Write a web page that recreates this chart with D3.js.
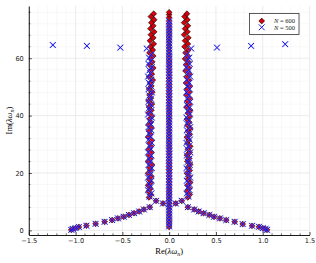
<!DOCTYPE html>
<html>
<head>
<meta charset="utf-8">
<script src="https://cdn.jsdelivr.net/npm/d3@7"></script>
<style>
  html, body { margin: 0; padding: 0; background: #fff; }
  svg { display: block; }
</style>
</head>
<body>
<div id="chart"></div>
<script>
// ---- data ----
const xTicks = [-1.5, -1.0, -0.5, 0.0, 0.5, 1.0, 1.5];
const yTicks = [0, 20, 40, 60];
const seriesNames = ['N = 600', 'N = 500'];

// N = 600 : centre column (Re = 0)
const centreIm600 = [1.2, 2.2, 3.2, 4.2, 5.3, 6.3, 7.4, 8.4, 9.5, 10.6, 11.6, 12.7, 13.7, 14.8, 15.9,
  16.9, 18.0, 19.0, 20.1, 21.2, 22.2, 23.3, 24.3, 25.4, 26.5, 27.5, 28.6, 29.6, 30.7, 31.8, 32.8,
  33.9, 34.9, 36.0, 37.1, 38.1, 39.2, 40.2, 41.3, 42.4, 43.4, 44.5, 45.5, 46.6, 47.7, 48.7, 49.8,
  50.8, 51.9, 53.0, 54.0, 55.1, 56.1, 57.2, 58.3, 59.3, 60.4, 61.4, 62.5, 63.6, 64.6, 65.7, 66.7,
  67.8, 68.9, 69.9, 71.0, 72.0, 73.1, 74.2, 75.2, 76.0];
// N = 600 : side branches (shared Im, left / right Re)
const sideIm600 = [11.5, 12.5, 13.6, 14.6, 15.7, 16.7, 17.8, 18.8, 19.9, 20.9, 22.0, 23.0, 24.1, 25.1,
  26.2, 27.2, 28.3, 29.3, 30.4, 31.4, 32.5, 33.5, 34.6, 35.6, 36.7, 37.7, 38.8, 39.8, 40.9, 41.9,
  43.0, 44.0, 45.1, 46.1, 47.2, 48.2, 49.3, 50.3, 51.4, 52.4, 53.5, 54.5, 55.6, 56.6, 57.7, 58.7,
  59.8, 60.8, 61.9, 62.9, 64.0, 65.0, 66.1, 67.1, 68.2, 69.2, 70.3, 71.3, 72.4, 73.4, 74.5, 75.5];
const leftRe600 = [-0.215, -0.195, -0.22, -0.2, -0.225, -0.195, -0.215, -0.19, -0.225, -0.2, -0.21,
  -0.185, -0.225, -0.2, -0.215, -0.19, -0.22, -0.195, -0.21, -0.185, -0.225, -0.2, -0.215, -0.19,
  -0.22, -0.195, -0.21, -0.185, -0.22, -0.19, -0.215, -0.185, -0.22, -0.195, -0.21, -0.18, -0.215,
  -0.19, -0.205, -0.175, -0.215, -0.185, -0.2, -0.17, -0.21, -0.18, -0.2, -0.17, -0.21, -0.175,
  -0.2, -0.165, -0.205, -0.17, -0.195, -0.16, -0.2, -0.17, -0.19, -0.16, -0.195, -0.165];
const rightRe600 = [0.2, 0.22, 0.19, 0.215, 0.195, 0.225, 0.2, 0.215, 0.19, 0.22, 0.2, 0.225, 0.195,
  0.215, 0.19, 0.22, 0.2, 0.225, 0.195, 0.21, 0.19, 0.22, 0.2, 0.225, 0.195, 0.215, 0.19, 0.22, 0.2,
  0.225, 0.185, 0.215, 0.195, 0.22, 0.185, 0.215, 0.19, 0.22, 0.18, 0.21, 0.185, 0.215, 0.175, 0.21,
  0.18, 0.205, 0.17, 0.2, 0.175, 0.205, 0.165, 0.2, 0.17, 0.205, 0.16, 0.195, 0.17, 0.2, 0.16, 0.195,
  0.165, 0.19];
// N = 600 : lower arcs [Re, Im]
const lowLeft600 = [[-1.046, 0.2], [-1.03, 0.5], [-1.0, 0.8], [-0.965, 1.2], [-0.885, 1.65],
  [-0.786, 2.3], [-0.69, 3.0], [-0.61, 3.6], [-0.547, 4.2], [-0.486, 4.75], [-0.43, 5.4],
  [-0.375, 6.0], [-0.32, 6.6], [-0.27, 7.3], [-0.207, 8.1], [-0.14, 10.3], [-0.065, 9.4]];
const lowRight600 = [[1.046, 0.2], [1.03, 0.5], [1.0, 0.8], [0.96, 1.25], [0.886, 1.6],
  [0.786, 2.2], [0.70, 3.0], [0.61, 3.6], [0.543, 4.2], [0.48, 4.75], [0.43, 5.4],
  [0.368, 6.0], [0.315, 6.6], [0.268, 7.3], [0.2, 8.1], [0.135, 10.3], [0.07, 9.4]];

// N = 500
const centreIm500 = [1.4, 2.5, 3.6, 4.7, 5.8, 6.9, 8.0, 9.1, 10.2, 11.3, 12.4, 13.5, 14.6, 15.7, 16.8,
  17.9, 19.0, 20.1, 21.2, 22.3, 23.4, 24.5, 25.6, 26.7, 27.8, 28.9, 30.0, 31.1, 32.2, 33.3, 34.4,
  35.5, 36.6, 37.7, 38.8, 39.9, 41.0, 42.1, 43.2, 44.3, 45.4, 46.5, 47.6, 48.7, 49.8, 50.9, 52.0,
  53.1, 54.2, 55.3, 56.4, 57.5, 58.6, 59.7, 60.8, 61.9, 63.0, 64.1, 65.2, 66.3, 67.4, 68.5, 69.6,
  70.7, 71.8, 72.9];
const sideIm500 = [11.8, 12.9, 14.0, 15.1, 16.2, 17.3, 18.4, 19.5, 20.6, 21.7, 22.8, 23.9, 25.0, 26.1,
  27.2, 28.3, 29.4, 30.5, 31.6, 32.7, 33.8, 34.9, 36.0, 37.1, 38.2, 39.3, 40.4, 41.5, 42.6, 43.7,
  44.8, 45.9, 47.0, 48.1, 49.2, 50.3, 51.4, 52.5, 53.6, 54.7, 55.8, 56.9, 58.0, 59.1, 60.2, 61.3, 63.4];
const leftRe500 = [-0.21, -0.19, -0.225, -0.2, -0.215, -0.19, -0.225, -0.2, -0.21, -0.185, -0.22,
  -0.2, -0.215, -0.19, -0.225, -0.195, -0.21, -0.185, -0.22, -0.2, -0.215, -0.19, -0.22, -0.195,
  -0.21, -0.185, -0.225, -0.2, -0.215, -0.19, -0.22, -0.195, -0.21, -0.185, -0.22, -0.195, -0.215,
  -0.19, -0.225, -0.2, -0.21, -0.185, -0.22, -0.195, -0.215, -0.19, -0.24];
const rightRe500 = [0.205, 0.19, 0.22, 0.2, 0.215, 0.19, 0.225, 0.2, 0.21, 0.185, 0.22, 0.2, 0.215,
  0.19, 0.225, 0.195, 0.21, 0.185, 0.22, 0.2, 0.215, 0.19, 0.225, 0.195, 0.21, 0.185, 0.22, 0.2,
  0.215, 0.19, 0.225, 0.195, 0.21, 0.185, 0.22, 0.2, 0.215, 0.19, 0.225, 0.2, 0.21, 0.185, 0.22,
  0.195, 0.215, 0.19, 0.235];
const lowLeft500 = [[-1.046, 0.2], [-1.03, 0.5], [-1.0, 0.8], [-0.965, 1.2], [-0.885, 1.65],
  [-0.786, 2.3], [-0.69, 3.0], [-0.61, 3.6], [-0.547, 4.2], [-0.486, 4.75], [-0.43, 5.4],
  [-0.375, 6.0], [-0.32, 6.6], [-0.27, 7.3], [-0.207, 8.1], [-0.14, 10.3], [-0.065, 9.4]];
const lowRight500 = [[1.046, 0.2], [1.03, 0.5], [1.0, 0.8], [0.96, 1.25], [0.886, 1.6],
  [0.786, 2.2], [0.70, 3.0], [0.61, 3.6], [0.543, 4.2], [0.48, 4.75], [0.43, 5.4],
  [0.368, 6.0], [0.315, 6.6], [0.268, 7.3], [0.2, 8.1], [0.135, 10.3], [0.07, 9.4]];
// N = 500 : outlying eigenvalues near Im 64
const outliers500 = [[-1.243, 64.6], [-0.879, 64.3], [-0.522, 63.7], [0.511, 63.7], [0.876, 64.3],
  [1.24, 64.9]];

// ---- assemble point lists ----
function collect(centreIm, sideIm, leftRe, rightRe, lowLeft, lowRight, extra) {
  let pts = [];
  lowLeft.forEach(p => pts.push(p));
  lowRight.forEach(p => pts.push(p));
  sideIm.forEach((im, i) => { pts.push([leftRe[i], im]); pts.push([rightRe[i], im]); });
  centreIm.forEach(im => pts.push([0, im]));
  (extra || []).forEach(p => pts.push(p));
  return pts;
}
const points600 = collect(centreIm600, sideIm600, leftRe600, rightRe600, lowLeft600, lowRight600);
const points500 = collect(centreIm500, sideIm500, leftRe500, rightRe500, lowLeft500, lowRight500, outliers500);

// ---- drawing ----
const W = 316, H = 263;
const svg = d3.select('#chart').append('svg').attr('width', W).attr('height', H);

const x = d3.scaleLinear().domain([-1.5, 1.5]).range([28.8, 309.5]);
const y = d3.scaleLinear().domain([-1.6, 78.2]).range([235, 6]);

// grid
const grid = svg.append('g');
const xMinor = d3.range(-15, 16).map(v => v / 10);
const yMinor = d3.range(0, 79, 4);
grid.selectAll('line.xm').data(xMinor).join('line')
  .attr('x1', d => x(d)).attr('x2', d => x(d)).attr('y1', y.range()[0]).attr('y2', y.range()[1])
  .attr('stroke', '#f3f3f3').attr('stroke-width', 0.6);
grid.selectAll('line.ym').data(yMinor).join('line')
  .attr('y1', d => y(d)).attr('y2', d => y(d)).attr('x1', x.range()[0]).attr('x2', x.range()[1])
  .attr('stroke', '#f3f3f3').attr('stroke-width', 0.6);
grid.selectAll('line.xg').data(xTicks).join('line')
  .attr('x1', d => x(d)).attr('x2', d => x(d)).attr('y1', y.range()[0]).attr('y2', y.range()[1])
  .attr('stroke', '#e4e4e4').attr('stroke-width', 0.6);
grid.selectAll('line.yg').data(yTicks).join('line')
  .attr('y1', d => y(d)).attr('y2', d => y(d)).attr('x1', x.range()[0]).attr('x2', x.range()[1])
  .attr('stroke', '#e4e4e4').attr('stroke-width', 0.6);

// markers
const rD = 2.9, rX = 2.9;
const diamond = `M0,${-rD}L${rD},0L0,${rD}L${-rD},0Z`;
const cross = `M${-rX},${-rX}L${rX},${rX}M${-rX},${rX}L${rX},${-rX}`;
const red = '#d8000a', blue = '#1515e6';

svg.append('g').selectAll('path').data(points600).join('path')
  .attr('d', diamond)
  .attr('transform', d => `translate(${x(d[0])},${y(d[1])})`)
  .attr('fill', red).attr('stroke', '#000').attr('stroke-width', 0.6);

// soft halo under the crosses, then the crosses
const g500 = svg.append('g');
g500.selectAll('path.halo').data(points500).join('path').attr('class', 'halo')
  .attr('d', cross)
  .attr('transform', d => `translate(${x(d[0])},${y(d[1])})`)
  .attr('fill', 'none').attr('stroke', '#8f8fff').attr('stroke-opacity', 0.35).attr('stroke-width', 1.8);
g500.selectAll('path.mk').data(points500).join('path').attr('class', 'mk')
  .attr('d', cross)
  .attr('transform', d => `translate(${x(d[0])},${y(d[1])})`)
  .attr('fill', 'none').attr('stroke', blue).attr('stroke-width', 1.0);

// axes
const fmt = d => d3.format('.1f')(d).replace('-', '\u2212');
const xAxis = d3.axisBottom(x).tickValues(xTicks).tickFormat(fmt).tickSizeInner(-3).tickSizeOuter(0).tickPadding(3);
const yAxis = d3.axisLeft(y).tickValues(yTicks).tickFormat(d3.format('d')).tickSizeInner(-3).tickSizeOuter(0).tickPadding(5);

const gx = svg.append('g').attr('transform', `translate(0,${y.range()[0]})`).call(xAxis);
const gy = svg.append('g').attr('transform', `translate(${x.range()[0]},0)`).call(yAxis);
[gx, gy].forEach(g => {
  g.select('.domain').attr('stroke', '#000').attr('stroke-width', 0.9);
  g.selectAll('.tick line').attr('stroke', '#000').attr('stroke-width', 0.7);
  g.selectAll('text').attr('font-family', 'DejaVu Sans, sans-serif').attr('font-size', 6.6).attr('fill', '#222');
});
// minor ticks
gx.selectAll('line.minor').data(xMinor.filter(v => Math.abs(v * 2 - Math.round(v * 2)) > 1e-6)).join('line')
  .attr('x1', d => x(d)).attr('x2', d => x(d)).attr('y1', 0).attr('y2', -1.6)
  .attr('stroke', '#000').attr('stroke-width', 0.6);
gy.selectAll('line.minor').data(yMinor.filter(v => v % 20 !== 0)).join('line')
  .attr('y1', d => y(d)).attr('y2', d => y(d)).attr('x1', 0).attr('x2', 1.6)
  .attr('stroke', '#000').attr('stroke-width', 0.6);

// axis labels
const xl = svg.append('text').attr('x', (x.range()[0] + x.range()[1]) / 2).attr('y', 254)
  .attr('text-anchor', 'middle').attr('font-family', 'Liberation Serif, serif').attr('font-size', 8.5);
xl.append('tspan').text('Re(');
xl.append('tspan').attr('font-style', 'italic').text('\u03bb\u03c9');
xl.append('tspan').attr('font-style', 'italic').attr('font-size', 6).attr('dy', 1.8).text('n');
xl.append('tspan').attr('dy', -1.8).text(')');

const yl = svg.append('text').attr('transform', `translate(12,${(y.range()[0] + y.range()[1]) / 2}) rotate(-90)`)
  .attr('text-anchor', 'middle').attr('font-family', 'Liberation Serif, serif').attr('font-size', 8.5);
yl.append('tspan').text('Im(');
yl.append('tspan').attr('font-style', 'italic').text('\u03bb\u03c9');
yl.append('tspan').attr('font-style', 'italic').attr('font-size', 6).attr('dy', 1.8).text('n');
yl.append('tspan').attr('dy', -1.8).text(')');

// legend
const lg = svg.append('g');
lg.append('rect').attr('x', 249.5).attr('y', 13.5).attr('width', 49.5).attr('height', 21)
  .attr('fill', '#fff').attr('stroke', '#333').attr('stroke-width', 0.8);
const legendRows = [{ name: seriesNames[0], ty: 21 }, { name: seriesNames[1], ty: 27.3 }];
lg.append('path').attr('d', diamond).attr('transform', `translate(261.7,${legendRows[0].ty})`)
  .attr('fill', red).attr('stroke', '#000').attr('stroke-width', 0.6);
lg.append('path').attr('d', cross).attr('transform', `translate(261.7,${legendRows[1].ty})`)
  .attr('fill', 'none').attr('stroke', blue).attr('stroke-width', 1.0);
legendRows.forEach(r => {
  const t = lg.append('text').attr('x', 274).attr('y', r.ty + 2.2)
    .attr('font-family', 'Liberation Serif, serif').attr('font-size', 6.5).attr('fill', '#222');
  t.append('tspan').attr('font-style', 'italic').text(r.name.split(' ')[0]);
  t.append('tspan').text(' ' + r.name.split(' ').slice(1).join(' '));
});
</script>
</body>
</html>
